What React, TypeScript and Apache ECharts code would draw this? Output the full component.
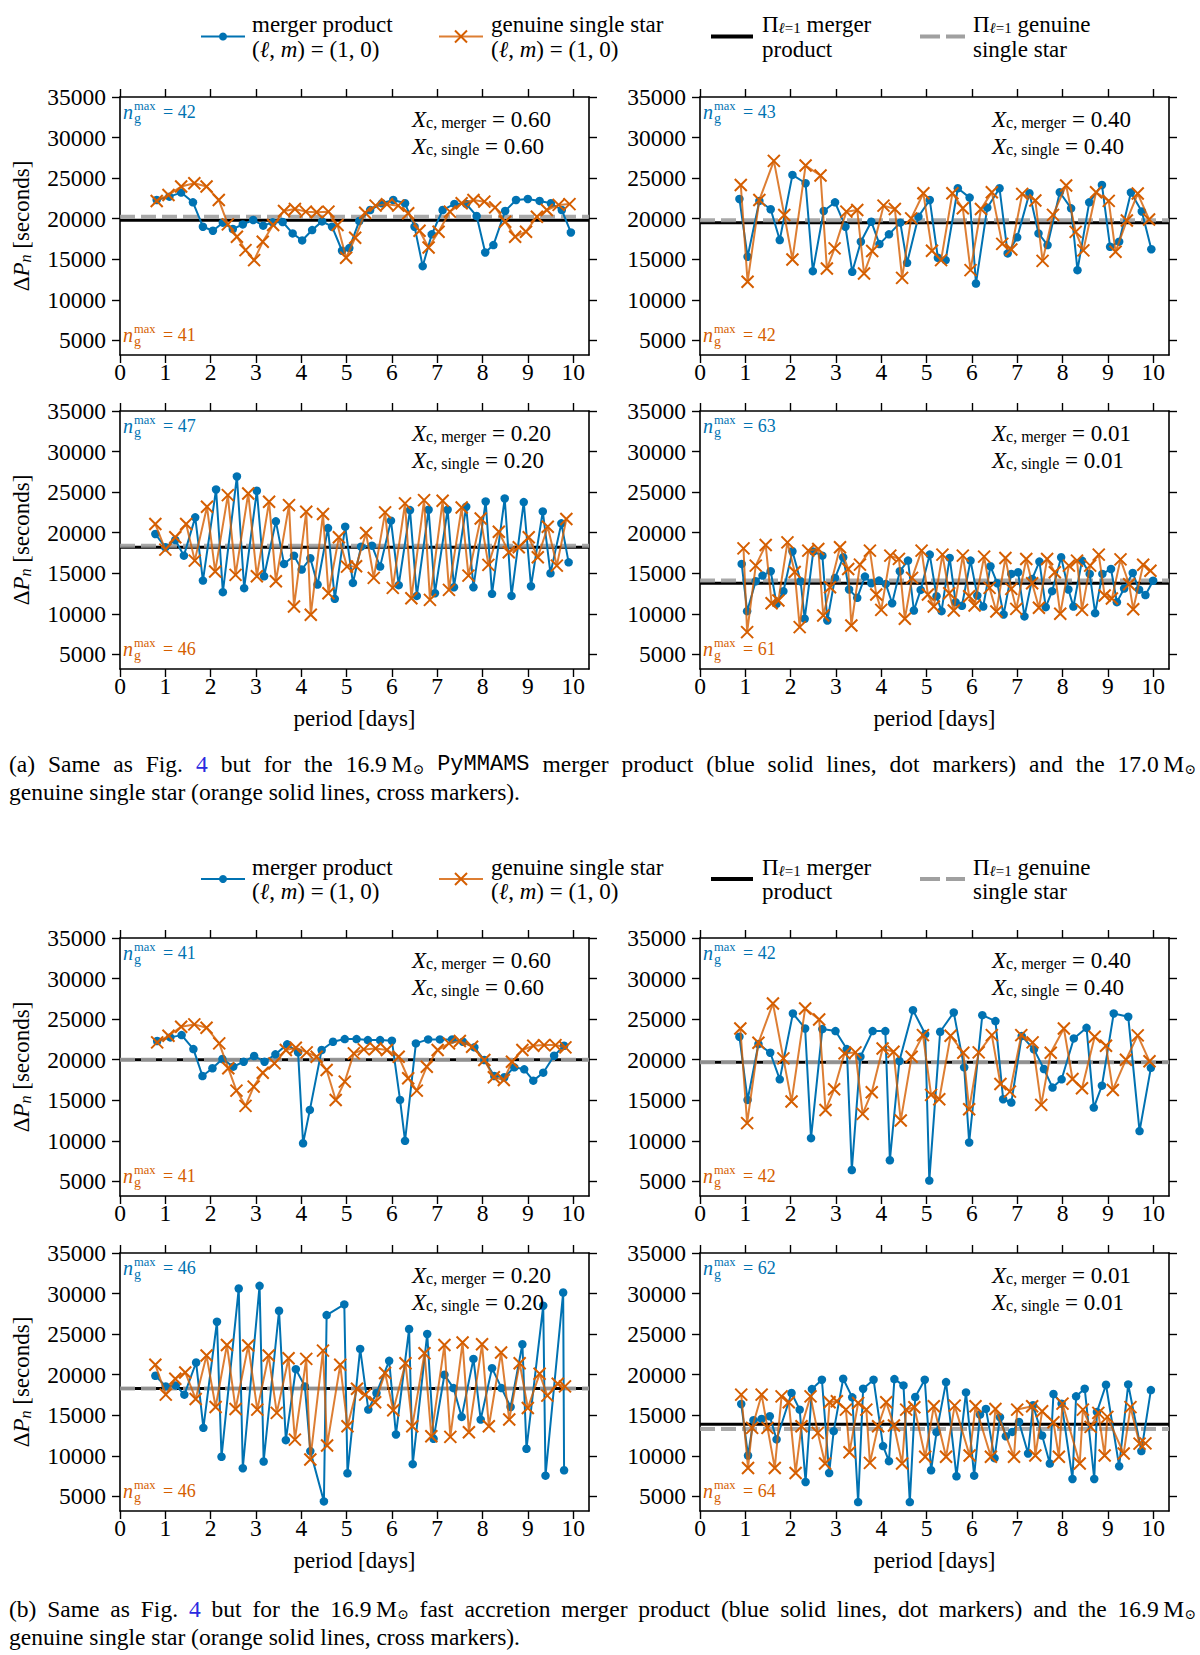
import React, { useEffect, useRef } from "react";
import * as echarts from "echarts";

const FONT = '"Liberation Serif", "DejaVu Serif", serif';
const MONO = '"Liberation Mono", "DejaVu Sans Mono", monospace';
const SYM_FONT = '"DejaVu Serif", serif';
const BLUE = "#0072B2";
const ORANGE = "#D55E00";
const GRAY = "#A0A0A0";

const X_TICKS = [0, 1, 2, 3, 4, 5, 6, 7, 8, 9, 10];
const Y_TICKS = [5000, 10000, 15000, 20000, 25000, 30000, 35000];
const X_MAX = 10.35;
const Y_MIN = 3200;
const Y_MAX = 35000;

// ---------- (a) PyMMAMS merger vs 17.0 Msun single ----------
const mergerA60 = [[0.81,22310],[1.09,22720],[1.35,23220],[1.61,22020],[1.83,19010],[2.05,18520],[2.27,19510],[2.49,18730],[2.71,19300],[2.94,19840],[3.16,19140],[3.37,19550],[3.59,19590],[3.81,18190],[4.02,17320],[4.24,18600],[4.46,19670],[4.68,19010],[4.90,16050],[5.06,16380],[5.28,19710],[5.52,21070],[5.78,21900],[6.03,22310],[6.29,21900],[6.50,19010],[6.68,14150],[6.88,18070],[7.12,21070],[7.38,21820],[7.64,21820],[7.87,20330],[8.06,15840],[8.24,16750],[8.50,20950],[8.74,22310],[9.00,22430],[9.26,22190],[9.51,21900],[9.75,21070],[9.95,18300]];
const singleA60 = [[0.81,22190],[1.07,22930],[1.35,23960],[1.64,24370],[1.91,23960],[2.18,22310],[2.38,19300],[2.58,17780],[2.77,16130],[2.96,14890],[3.15,17150],[3.38,19220],[3.62,20950],[3.86,21200],[4.10,20870],[4.34,20790],[4.60,20870],[4.80,19220],[4.99,15180],[5.19,17650],[5.41,20740],[5.64,21610],[5.89,21780],[6.14,21610],[6.36,20670],[6.61,18520],[6.81,16460],[7.03,18400],[7.28,20870],[7.54,21900],[7.80,22310],[8.04,22100],[8.28,21400],[8.50,19630],[8.72,17780],[8.96,18400],[9.20,20250],[9.42,21070],[9.68,21700],[9.92,21800]];
const piA60 = [19800, 20250];
const nA60 = [42, 41];

const mergerA40 = [[0.87,22430],[1.05,15310],[1.31,22190],[1.56,21160],[1.76,17370],[2.04,25400],[2.33,24370],[2.49,13530],[2.73,20950],[2.98,22020],[3.21,19010],[3.36,13450],[3.55,17160],[3.78,19630],[3.96,16870],[4.17,18070],[4.42,19510],[4.57,14560],[4.82,20250],[5.07,22310],[5.25,15180],[5.42,14890],[5.69,23750],[5.95,22600],[6.09,12010],[6.34,21360],[6.61,23750],[6.79,15720],[7.00,17700],[7.27,23130],[7.47,18190],[7.67,16750],[7.94,23260],[8.19,21280],[8.33,13660],[8.59,22020],[8.87,24160],[9.05,16540],[9.25,17170],[9.51,23230],[9.75,20890],[9.96,16240]];
const singleA40 = [[0.90,24160],[1.05,12220],[1.31,22310],[1.63,27130],[1.86,20460],[2.04,14980],[2.33,26550],[2.66,25320],[2.80,13860],[2.97,16340],[3.23,20870],[3.47,21070],[3.62,13250],[3.80,16010],[4.05,21610],[4.30,21200],[4.46,12710],[4.66,20040],[4.93,23130],[5.12,16050],[5.32,14890],[5.57,23130],[5.80,21280],[5.97,13660],[6.20,21200],[6.44,23250],[6.67,16900],[6.87,16200],[7.11,23060],[7.40,22250],[7.56,14800],[7.79,20470],[8.08,24100],[8.29,18380],[8.46,16100],[8.74,23250],[9.02,22200],[9.17,15920],[9.42,19780],[9.66,23100],[9.91,19910]];
const piA40 = [19500, 19800];
const nA40 = [43, 42];

const mergerA20 = [[0.78,19840],[1.00,18200],[1.22,19100],[1.41,17170],[1.66,21890],[1.83,14100],[2.12,25330],[2.27,12670],[2.58,26930],[2.74,13160],[3.02,25170],[3.18,14630],[3.44,21400],[3.62,16150],[3.84,17170],[4.01,15450],[4.20,16850],[4.36,13610],[4.59,20570],[4.74,11850],[4.97,20740],[5.14,13810],[5.32,18280],[5.56,18400],[5.74,15820],[5.98,21480],[6.15,13530],[6.40,22790],[6.55,12210],[6.81,22830],[6.95,12540],[7.23,22830],[7.37,13280],[7.64,23200],[7.80,13280],[8.07,23850],[8.21,12460],[8.49,24220],[8.64,12210],[8.91,23770],[9.07,13400],[9.33,22620],[9.50,15000],[9.74,21150],[9.90,16350]];
const singleA20 = [[0.78,21070],[1.00,17910],[1.22,19430],[1.46,21070],[1.65,16560],[1.92,23200],[2.10,15210],[2.38,24630],[2.55,14800],[2.83,24840],[3.02,14630],[3.29,23810],[3.44,14020],[3.73,23400],[3.84,10900],[4.11,22580],[4.21,9880],[4.48,22300],[4.60,12540],[4.83,19430],[5.01,15820],[5.21,15860],[5.43,19960],[5.60,14430],[5.85,22500],[6.02,13200],[6.29,23610],[6.43,11930],[6.71,24020],[6.84,11720],[7.12,23930],[7.26,12950],[7.54,23110],[7.69,14710],[7.96,21760],[8.13,16030],[8.36,20120],[8.58,17580],[8.80,18200],[9.02,19430],[9.22,16970],[9.44,20740],[9.64,15940],[9.85,21680]];
const piA20 = [18200, 18400];
const nA20 = [47, 46];

const mergerA01 = [[0.92,16150],[1.04,10330],[1.23,14020],[1.38,14710],[1.56,15250],[1.69,11230],[1.84,12790],[2.04,17710],[2.22,14020],[2.31,9390],[2.50,17670],[2.70,17170],[2.81,9180],[2.98,14430],[3.16,16970],[3.29,13000],[3.47,11970],[3.64,14590],[3.78,13770],[3.95,14100],[4.10,13690],[4.24,11310],[4.41,15250],[4.59,16560],[4.72,10410],[4.87,12950],[5.07,17300],[5.22,12170],[5.33,10330],[5.51,16890],[5.64,11440],[5.78,10990],[5.97,16560],[6.12,12250],[6.25,10900],[6.41,15860],[6.56,13770],[6.70,9920],[6.87,14920],[7.02,15120],[7.16,9680],[7.33,14300],[7.49,16440],[7.63,10820],[7.77,12790],[7.97,16970],[8.13,13000],[8.24,10900],[8.43,16560],[8.60,14920],[8.72,10080],[8.88,14920],[9.07,15530],[9.20,11440],[9.36,13120],[9.55,15040],[9.69,12980],[9.83,12320],[10.0,14080]];
const singleA01 = [[0.96,18070],[1.04,7750],[1.23,15940],[1.45,18480],[1.58,11310],[1.73,11640],[1.93,18810],[2.09,15150],[2.20,8360],[2.39,17790],[2.61,18000],[2.72,9800],[2.87,13280],[3.09,18200],[3.27,15530],[3.34,8570],[3.53,16070],[3.75,17790],[3.89,12380],[4.00,10490],[4.20,17170],[4.39,16770],[4.52,9390],[4.68,14430],[4.89,17790],[5.03,12380],[5.16,10900],[5.35,17300],[5.50,12540],[5.60,10410],[5.80,17170],[5.94,12170],[6.06,11030],[6.27,17050],[6.39,13200],[6.54,10290],[6.74,16890],[6.87,13080],[6.98,10610],[7.20,16760],[7.33,13770],[7.48,10740],[7.66,16760],[7.83,15120],[7.95,10000],[8.14,15940],[8.32,16560],[8.43,10490],[8.61,15940],[8.80,17300],[8.93,12250],[9.09,11890],[9.28,16710],[9.47,13640],[9.56,10570],[9.78,16050],[9.94,15310]];
const piA01 = [13770, 14100];
const nA01 = [63, 61];

// ---------- (b) fast accretion merger vs 16.9 Msun single ----------
const mergerB60 = [[0.82,22300],[1.11,22750],[1.36,23030],[1.62,21310],[1.82,17990],[2.04,18940],[2.26,20080],[2.50,19140],[2.73,19750],[2.96,20450],[3.19,19750],[3.43,20660],[3.69,21890],[3.93,20900],[4.04,9700],[4.19,13810],[4.45,21190],[4.70,22210],[4.96,22540],[5.22,22540],[5.47,22420],[5.74,22420],[6.00,22340],[6.18,15040],[6.29,10000],[6.53,22010],[6.80,22500],[7.06,22500],[7.33,22500],[7.57,22210],[7.82,21520],[8.04,19960],[8.26,17990],[8.48,17830],[8.70,19060],[8.92,18810],[9.12,17420],[9.34,18400],[9.58,20490],[9.80,21720]];
const singleB60 = [[0.82,22130],[1.07,22950],[1.35,24060],[1.64,24350],[1.91,23940],[2.19,22010],[2.39,18940],[2.57,16190],[2.77,14310],[2.95,16680],[3.15,18400],[3.41,19550],[3.66,21190],[3.88,21480],[4.12,20900],[4.34,20370],[4.56,18730],[4.76,15040],[4.96,17300],[5.16,20780],[5.38,21270],[5.64,21390],[5.89,21190],[6.15,20370],[6.36,17710],[6.55,16190],[6.77,19140],[7.01,21190],[7.26,22010],[7.50,22300],[7.77,21600],[8.04,19960],[8.25,17830],[8.47,17500],[8.65,19750],[8.88,21190],[9.12,21720],[9.36,21800],[9.61,21800],[9.83,21520]];
const piB60 = [20000, 20000];
const nB60 = [41, 41];

const mergerB40 = [[0.87,22830],[1.05,15040],[1.29,21930],[1.55,20860],[1.76,17580],[2.05,25700],[2.32,23850],[2.45,10330],[2.70,23770],[2.99,23530],[3.24,21310],[3.35,6400],[3.54,20370],[3.81,23530],[4.09,23530],[4.19,7600],[4.40,19840],[4.70,26110],[4.97,23160],[5.06,5100],[5.30,23440],[5.60,25820],[5.83,19060],[5.94,9800],[6.23,25490],[6.52,24760],[6.69,15130],[6.87,14720],[7.10,22910],[7.37,21270],[7.59,18850],[7.78,16560],[7.98,17580],[8.25,22620],[8.53,23930],[8.69,14100],[8.87,16800],[9.13,25700],[9.45,25300],[9.70,11200],[9.95,19000]];
const singleB40 = [[0.89,23850],[1.04,12180],[1.29,22090],[1.61,26930],[1.84,20160],[2.02,14840],[2.32,26310],[2.63,24960],[2.77,13810],[2.96,16350],[3.19,20780],[3.43,20900],[3.59,13320],[3.79,15990],[4.03,21390],[4.27,20980],[4.43,12500],[4.67,20370],[4.92,23030],[5.10,15660],[5.28,15130],[5.53,22950],[5.81,20860],[5.94,13900],[6.15,20900],[6.44,23030],[6.63,17010],[6.84,16070],[7.09,23030],[7.34,22130],[7.53,14430],[7.74,20860],[8.03,23850],[8.22,17620],[8.43,16480],[8.71,22830],[8.96,21720],[9.11,16270],[9.40,20000],[9.66,23000],[9.92,19800]];
const piB40 = [19700, 19700];
const nB40 = [42, 42];

const mergerB20 = [[0.78,19870],[1.01,18560],[1.23,18680],[1.42,17540],[1.68,21500],[1.84,13450],[2.14,26530],[2.24,9880],[2.62,30620],[2.71,8470],[3.08,30950],[3.17,9300],[3.51,27880],[3.66,11930],[3.88,20680],[4.08,18560],[4.20,10580],[4.50,4380],[4.56,27350],[4.95,28660],[5.02,7850],[5.30,23180],[5.48,15700],[5.66,17740],[5.94,21710],[6.09,12630],[6.38,25630],[6.46,8970],[6.78,25020],[6.92,12100],[7.16,19990],[7.36,18350],[7.54,14800],[7.80,21950],[7.96,14470],[8.21,20810],[8.42,18350],[8.62,16020],[8.88,23750],[8.97,10870],[9.34,28500],[9.39,7560],[9.78,30130],[9.80,8220]];
const singleB20 = [[0.78,21220],[1.01,17540],[1.22,19500],[1.44,20280],[1.67,17010],[1.91,22360],[2.11,16020],[2.36,23670],[2.55,15780],[2.83,23590],[3.03,15700],[3.28,22360],[3.46,15290],[3.72,22030],[3.86,12000],[4.11,21950],[4.20,9550],[4.48,22970],[4.57,11280],[4.86,21220],[5.02,13650],[5.23,18270],[5.41,17540],[5.63,16600],[5.85,20200],[6.03,15610],[6.30,21420],[6.45,13650],[6.72,22650],[6.87,12420],[7.16,23670],[7.29,12340],[7.56,23960],[7.70,12910],[7.99,23750],[8.14,13650],[8.41,22730],[8.59,14470],[8.82,21420],[9.00,15900],[9.26,20110],[9.43,17420],[9.66,18880],[9.82,18560]];
const piB20 = [18300, 18300];
const nB20 = [46, 46];

const mergerB01 = [[0.91,16390],[1.06,10040],[1.18,14390],[1.36,14550],[1.54,14880],[1.69,12020],[2.02,17740],[2.20,15690],[2.33,6780],[2.47,18230],[2.69,19380],[2.85,7890],[2.95,13040],[3.16,19500],[3.36,17210],[3.49,4300],[3.60,18270],[3.83,19380],[4.04,11200],[4.17,9340],[4.29,19460],[4.49,18680],[4.63,4300],[4.75,17250],[4.96,19380],[5.10,8220],[5.22,12920],[5.43,19090],[5.66,7480],[5.87,17820],[6.05,7560],[6.18,15080],[6.31,15780],[6.50,9710],[6.62,14760],[6.75,12420],[6.89,12950],[7.04,14180],[7.24,10290],[7.35,16230],[7.55,12500],[7.72,9050],[7.80,17620],[7.98,16430],[8.22,7150],[8.30,17330],[8.49,18270],[8.70,7150],[8.76,15410],[8.96,18760],[9.25,8720],[9.45,18800],[9.74,10580],[9.95,18100]];
const singleB01 = [[0.91,17540],[1.06,8510],[1.15,13450],[1.36,17540],[1.49,13450],[1.65,8510],[1.80,17330],[1.96,16600],[2.11,7890],[2.24,13650],[2.44,17330],[2.60,12830],[2.76,9050],[2.86,16600],[3.02,16720],[3.22,15700],[3.30,10450],[3.49,16520],[3.67,15700],[3.75,9130],[3.93,13650],[4.11,16600],[4.28,13730],[4.46,9050],[4.55,15700],[4.73,15990],[4.97,9880],[5.16,16110],[5.43,9880],[5.62,16190],[5.95,10040],[6.08,16110],[6.42,9880],[6.52,15780],[6.93,9880],[7.00,15700],[7.33,16110],[7.40,10040],[7.55,15490],[7.80,14140],[7.92,9880],[8.00,16430],[8.38,9050],[8.45,15700],[8.62,13570],[8.79,15290],[8.93,10040],[8.99,14800],[9.35,10290],[9.50,16000],[9.70,11500],[9.83,11530]];
const piB01 = [13900, 13300];
const nB01 = [62, 64];

const XC_LABELS = ["0.60", "0.40", "0.20", "0.01"];

const PANELS = [
  { merger: mergerA60, single: singleA60, pi: piA60, n: nA60, xc: XC_LABELS[0], row: 0, col: 0 },
  { merger: mergerA40, single: singleA40, pi: piA40, n: nA40, xc: XC_LABELS[1], row: 0, col: 1 },
  { merger: mergerA20, single: singleA20, pi: piA20, n: nA20, xc: XC_LABELS[2], row: 1, col: 0 },
  { merger: mergerA01, single: singleA01, pi: piA01, n: nA01, xc: XC_LABELS[3], row: 1, col: 1 },
  { merger: mergerB60, single: singleB60, pi: piB60, n: nB60, xc: XC_LABELS[0], row: 2, col: 0 },
  { merger: mergerB40, single: singleB40, pi: piB40, n: nB40, xc: XC_LABELS[1], row: 2, col: 1 },
  { merger: mergerB20, single: singleB20, pi: piB20, n: nB20, xc: XC_LABELS[2], row: 3, col: 0 },
  { merger: mergerB01, single: singleB01, pi: piB01, n: nB01, xc: XC_LABELS[3], row: 3, col: 1 },
];

// captions: words, each a list of [text, style]
const CAPTION_A1 = [
  [["(a)", "t"]], [["Same", "t"]], [["as", "t"]], [["Fig.", "t"]], [["4", "lk"]], [["but", "t"]], [["for", "t"]], [["the", "t"]],
  [["16.9\u2009M", "t"], ["⊙", "o"]], [["PyMMAMS", "mono"]], [["merger", "t"]], [["product", "t"]], [["(blue", "t"]], [["solid", "t"]],
  [["lines,", "t"]], [["dot", "t"]], [["markers)", "t"]], [["and", "t"]], [["the", "t"]], [["17.0\u2009M", "t"], ["⊙", "o"]],
];
const CAPTION_B1 = [
  [["(b)", "t"]], [["Same", "t"]], [["as", "t"]], [["Fig.", "t"]], [["4", "lk"]], [["but", "t"]], [["for", "t"]], [["the", "t"]],
  [["16.9\u2009M", "t"], ["⊙", "o"]], [["fast", "t"]], [["accretion", "t"]], [["merger", "t"]], [["product", "t"]], [["(blue", "t"]], [["solid", "t"]],
  [["lines,", "t"]], [["dot", "t"]], [["markers)", "t"]], [["and", "t"]], [["the", "t"]], [["16.9\u2009M", "t"], ["⊙", "o"]],
];
const CAPTION_2 = "genuine single star (orange solid lines, cross markers).";
const CAPTION_Y = [[764, 792], [1609, 1637]];

// layout
const GRID_LEFT = [120, 700];
const GRID_TOP = [97, 411, 938, 1253];
const GRID_W = 469;
const GRID_H = 258;
const LEGEND_ROWS = [[24, 49], [867, 891]];
const CAP_LEFT = 9;
const CAP_RIGHT = 1196;
const CAP_SIZE = 23.5;
const TICK_SIZE = 23.5;
const LEG_SIZE = 23;

const X_SYMBOL = "path://M0,0L10,10M10,0L0,10";

const CAP_STYLES: any = {
  t: { fontFamily: FONT, fontSize: CAP_SIZE, fill: "#000" },
  lk: { fontFamily: FONT, fontSize: CAP_SIZE, fill: "#2a2ae0" },
  o: { fontFamily: SYM_FONT, fontSize: 14, fill: "#000", verticalAlign: "bottom", lineHeight: 14 },
  mono: { fontFamily: MONO, fontSize: CAP_SIZE - 1.5, fill: "#000" },
};

let measureCtx: CanvasRenderingContext2D | null = null;
function measure(text: string, st: any) {
  if (!measureCtx) measureCtx = document.createElement("canvas").getContext("2d");
  if (!measureCtx) return text.length * st.fontSize * 0.45;
  measureCtx.font = `${st.fontStyle || "normal"} ${st.fontSize}px ${st.fontFamily}`;
  return measureCtx.measureText(text).width;
}

function txt(x: number, y: number, text: string, size: number, opts: any = {}) {
  return {
    type: "text",
    x,
    y,
    z: 100,
    silent: true,
    style: {
      text,
      fontFamily: opts.family || FONT,
      fontSize: size,
      fill: opts.fill || "#000",
      fontStyle: opts.italic ? "italic" : "normal",
      align: opts.align || "left",
      verticalAlign: "middle",
      rich: opts.rich,
    },
  };
}

function justified(words: any[], y: number) {
  const widths = words.map((w: any[]) => w.reduce((s: number, [t, k]: any) => s + measure(t, CAP_STYLES[k]), 0));
  const total = widths.reduce((a: number, b: number) => a + b, 0);
  const gap = (CAP_RIGHT - CAP_LEFT - total) / (words.length - 1);
  const out: any[] = [];
  let x = CAP_LEFT;
  words.forEach((w: any[], i: number) => {
    const text = w.map(([t, k]: any) => `{${k}|${t}}`).join("");
    out.push(txt(x, y, text, CAP_SIZE, { rich: CAP_STYLES }));
    x += widths[i] + gap;
  });
  return out;
}

// main tokens use a line height equal to the font size; the subscript tokens are
// bottom-aligned with a shorter line height, which drops them below the baseline
const SUB_RICH = (size: number, sub: number) => ({
  i: { fontFamily: FONT, fontSize: size, fontStyle: "italic", lineHeight: size },
  t: { fontFamily: FONT, fontSize: size, lineHeight: size },
  s: { fontFamily: FONT, fontSize: sub, lineHeight: sub - 4, verticalAlign: "bottom" },
  si: { fontFamily: FONT, fontSize: sub, fontStyle: "italic", lineHeight: sub - 4, verticalAlign: "bottom" },
});

function nLabel(x: number, y: number, value: number, color: string) {
  return [
    txt(x, y, "n", 20, { italic: true, fill: color }),
    txt(x + 11, y - 6, "max", 12.5, { fill: color }),
    txt(x + 11, y + 6, "g", 14, { fill: color }),
    txt(x + 40, y, "= " + value, 18, { fill: color }),
  ];
}

function legend(rows: number[]) {
  const [r1, r2] = rows;
  const ly = (r1 + r2) / 2;
  const rich = SUB_RICH(LEG_SIZE, 15);
  const g: any[] = [];
  g.push({ type: "line", z: 100, shape: { x1: 201, y1: ly, x2: 245, y2: ly }, style: { stroke: BLUE, lineWidth: 2 } });
  g.push({ type: "circle", z: 101, shape: { cx: 223, cy: ly, r: 4 }, style: { fill: BLUE } });
  g.push(txt(252, r1, "merger product", LEG_SIZE));
  g.push(txt(252, r2, "({i|ℓ}{t|, }{i|m}{t|) = (1, 0)}", LEG_SIZE, { rich }));
  g.push({ type: "line", z: 100, shape: { x1: 439, y1: ly, x2: 483, y2: ly }, style: { stroke: ORANGE, lineWidth: 2, opacity: 0.8 } });
  g.push({ type: "line", z: 101, shape: { x1: 455, y1: ly - 6, x2: 467, y2: ly + 6 }, style: { stroke: ORANGE, lineWidth: 2 } });
  g.push({ type: "line", z: 101, shape: { x1: 455, y1: ly + 6, x2: 467, y2: ly - 6 }, style: { stroke: ORANGE, lineWidth: 2 } });
  g.push(txt(491, r1, "genuine single star", LEG_SIZE));
  g.push(txt(491, r2, "({i|ℓ}{t|, }{i|m}{t|) = (1, 0)}", LEG_SIZE, { rich }));
  g.push({ type: "line", z: 100, shape: { x1: 711, y1: ly, x2: 753, y2: ly }, style: { stroke: "#000", lineWidth: 4 } });
  g.push(txt(762, r1, "{t|Π}{si|ℓ}{s|=1}{t| merger}", LEG_SIZE, { rich }));
  g.push(txt(762, r2, "product", LEG_SIZE));
  g.push({ type: "line", z: 100, shape: { x1: 920, y1: ly, x2: 965, y2: ly }, style: { stroke: GRAY, lineWidth: 4, lineDash: [20, 6] } });
  g.push(txt(973, r1, "{t|Π}{si|ℓ}{s|=1}{t| genuine}", LEG_SIZE, { rich }));
  g.push(txt(973, r2, "single star", LEG_SIZE));
  return g;
}

function buildOption() {
  const grid: any[] = [];
  const xAxis: any[] = [];
  const yAxis: any[] = [];
  const series: any[] = [];
  const graphic: any[] = [];

  const axisLine = { show: true, onZero: false, lineStyle: { color: "#000", width: 1.6 } };
  const tick = (vals: number[]) => ({ show: true, inside: false, length: 8, customValues: vals, lineStyle: { color: "#000", width: 1.4 } });
  const label = (vals: number[], margin: number) => ({
    show: true, customValues: vals, fontFamily: FONT, fontSize: TICK_SIZE, color: "#000", margin,
    formatter: (v: number) => String(v),
  });

  PANELS.forEach((p, i) => {
    const left = GRID_LEFT[p.col];
    const top = GRID_TOP[p.row];
    grid.push({ left, top, width: GRID_W, height: GRID_H, containLabel: false });
    const isBottom = p.row === 1 || p.row === 3;
    xAxis.push({
      type: "value", gridIndex: i, min: 0, max: X_MAX, position: "bottom",
      axisLine, axisTick: tick(X_TICKS), axisLabel: label(X_TICKS, 5), splitLine: { show: false },
      name: isBottom ? "period [days]" : "", nameLocation: "middle", nameGap: 38,
      nameTextStyle: { fontFamily: FONT, fontSize: 23, color: "#000" },
    });
    xAxis.push({
      type: "value", gridIndex: i, min: 0, max: X_MAX, position: "top",
      axisLine, axisTick: tick(X_TICKS), axisLabel: { show: false }, splitLine: { show: false },
    });
    yAxis.push({
      type: "value", gridIndex: i, min: Y_MIN, max: Y_MAX, position: "left",
      axisLine, axisTick: tick(Y_TICKS), axisLabel: label(Y_TICKS, 14), splitLine: { show: false },
      name: p.col === 0 ? "{t|Δ}{i|P}{si|n}{t| [seconds]}" : "",
      nameLocation: "middle", nameGap: 87,
      nameTextStyle: { fontFamily: FONT, fontSize: 23, color: "#000", rich: SUB_RICH(23, 16) },
    });
    yAxis.push({
      type: "value", gridIndex: i, min: Y_MIN, max: Y_MAX, position: "right",
      axisLine, axisTick: tick(Y_TICKS), axisLabel: { show: false }, splitLine: { show: false },
    });
    const xi = i * 2;
    const yi = i * 2;
    series.push({
      type: "line", xAxisIndex: xi, yAxisIndex: yi, silent: true, symbol: "none", z: 1,
      data: [[0, p.pi[0]], [X_MAX, p.pi[0]]],
      lineStyle: { color: "#000", width: 3 },
    });
    series.push({
      type: "line", xAxisIndex: xi, yAxisIndex: yi, silent: true, symbol: "none", z: 1,
      data: [[0, p.pi[1]], [X_MAX, p.pi[1]]],
      lineStyle: { color: GRAY, width: 4, type: [15, 6], opacity: 0.9 },
    });
    series.push({
      type: "line", xAxisIndex: xi, yAxisIndex: yi, silent: true, z: 3,
      data: p.merger, symbol: "circle", symbolSize: 8.5,
      itemStyle: { color: BLUE, borderWidth: 0 },
      lineStyle: { color: BLUE, width: 2 },
      emphasis: { disabled: true },
    });
    series.push({
      type: "line", xAxisIndex: xi, yAxisIndex: yi, silent: true, z: 4,
      data: p.single, symbol: X_SYMBOL, symbolSize: 12,
      itemStyle: { color: ORANGE, borderColor: ORANGE, borderWidth: 2 },
      lineStyle: { color: ORANGE, width: 2, opacity: 0.8 },
      emphasis: { disabled: true },
    });

    const rich = SUB_RICH(23, 16);
    const ax = left + 292;
    graphic.push(txt(ax, top + 22, "{i|X}{s|c, merger}{t| = " + p.xc + "}", 23, { rich }));
    graphic.push(txt(ax, top + 49, "{i|X}{s|c, single}{t| = " + p.xc + "}", 23, { rich }));
    graphic.push(...nLabel(left + 3, top + 15, p.n[0], BLUE));
    graphic.push(...nLabel(left + 3, top + GRID_H - 20, p.n[1], ORANGE));
  });

  graphic.push(...legend(LEGEND_ROWS[0]));
  graphic.push(...legend(LEGEND_ROWS[1]));

  graphic.push(...justified(CAPTION_A1, CAPTION_Y[0][0]));
  graphic.push(txt(CAP_LEFT, CAPTION_Y[0][1], CAPTION_2, CAP_SIZE));
  graphic.push(...justified(CAPTION_B1, CAPTION_Y[1][0]));
  graphic.push(txt(CAP_LEFT, CAPTION_Y[1][1], CAPTION_2, CAP_SIZE));

  return {
    animation: false,
    backgroundColor: "#fff",
    grid,
    xAxis,
    yAxis,
    series,
    graphic,
  };
}

export default function App() {
  const ref = useRef<HTMLDivElement>(null);
  useEffect(() => {
    document.body.style.margin = "0";
    if (!ref.current) return;
    const chart = echarts.init(ref.current, null, { renderer: "svg" });
    chart.setOption(buildOption() as any);
    return () => chart.dispose();
  }, []);
  return <div ref={ref} style={{ width: 1200, height: 1655 }} />;
}
